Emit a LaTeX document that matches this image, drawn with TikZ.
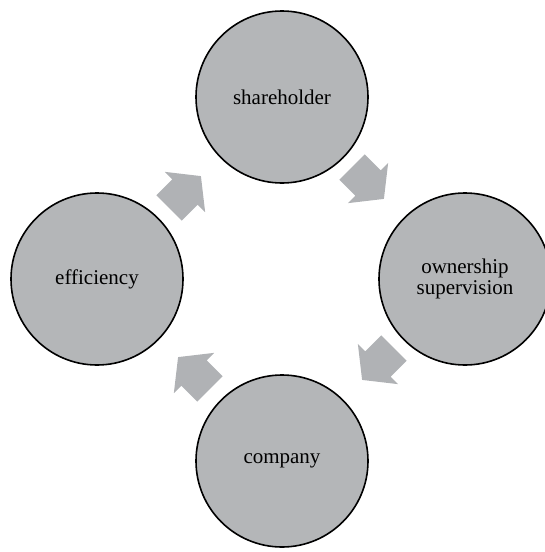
\documentclass[tikz,border=0pt]{standalone}
\usepackage{fontspec}
\setmainfont{Liberation Serif}
\usetikzlibrary{positioning}
\definecolor{cfill}{RGB}{180,182,184}
\definecolor{afill}{RGB}{176,178,181}

\begin{document}
\begin{tikzpicture}[x=1pt,y=1pt,on grid,
                main/.style = {circle, draw=black, line width=1.6pt, fill=cfill, minimum size=172pt,
                               inner sep=0pt, align=center, font=\fontsize{21}{21}\selectfont},
                flow/.pic = {\fill[afill] (-22.5,-18) -- (0,-18) -- (0,-28.5) -- (22.5,0)
                                          -- (0,28.5) -- (0,18) -- (-22.5,18) -- cycle;}]
                \useasboundingbox (0,0) rectangle (545,-552);
                \node[main] (share) at (282,-97) {shareholder};
                \node[main] (own) [below right=182pt and 183pt of share] {ownership\\supervision};
                \node[main] (comp) [below=364pt of share] {company};
                \node[main] (eff) [below left=182pt and 185pt of share] {efficiency};
                % arrows between the circles
                \coordinate (a1) at (368,-183);
                \coordinate (a2) at (378,-364);
                \coordinate (a3) at (194,-373);
                \coordinate (a4) at (185,-192);
                \pic[rotate=-45] at (a1) {flow};
                \pic[rotate=-135] at (a2) {flow};
                \pic[rotate=135] at (a3) {flow};
                \pic[rotate=45] at (a4) {flow};
            \end{tikzpicture}
\end{document}
